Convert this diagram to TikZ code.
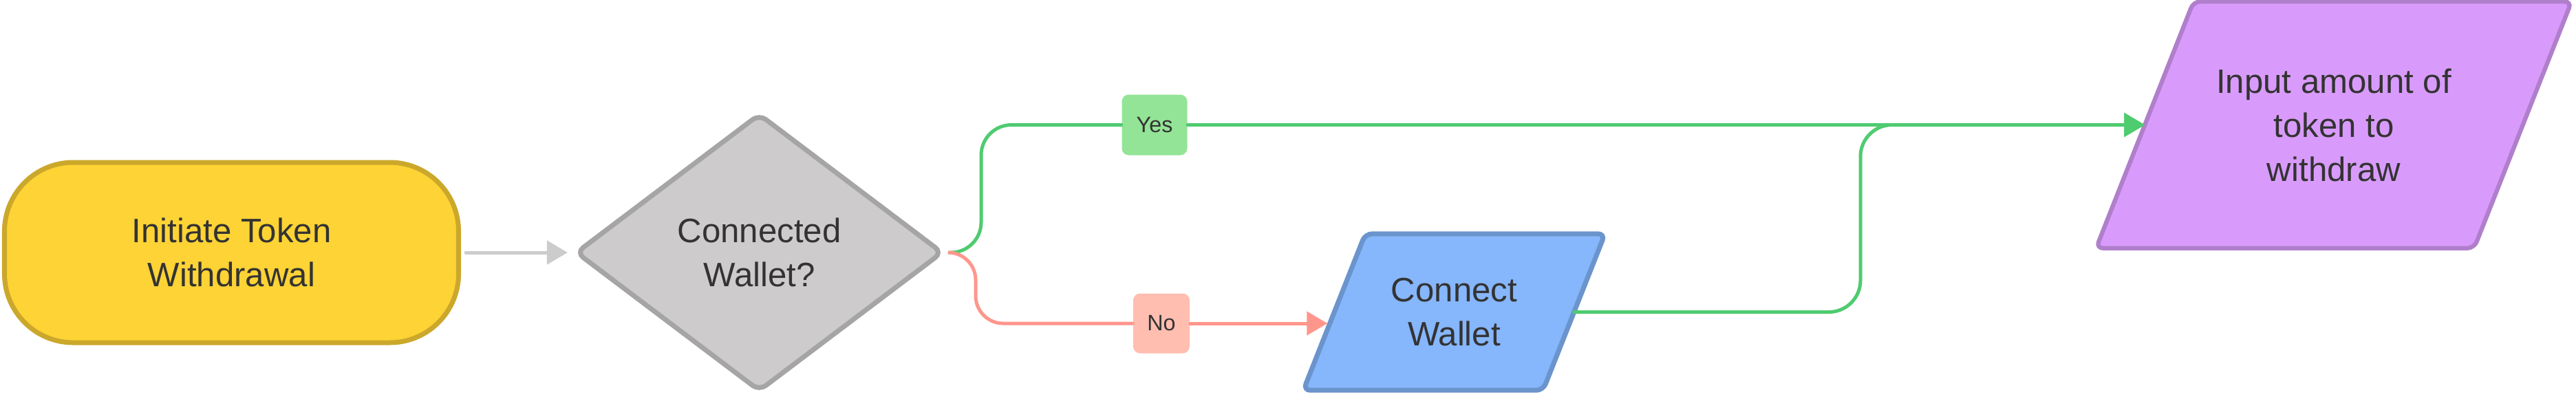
\documentclass[tikz,border=0pt]{standalone}
\usepackage{fontspec}
\setmainfont{Liberation Sans}
\usetikzlibrary{positioning}
\usetikzlibrary{arrows.meta}
\usetikzlibrary{shapes.geometric}
\pgfdeclarelayer{background}
\pgfsetlayers{background,main}
\definecolor{startFill}{HTML}{FDD335}
\definecolor{startLine}{HTML}{CBA82B}
\definecolor{decFill}{HTML}{CDCBCC}
\definecolor{decLine}{HTML}{A6A5A6}
\definecolor{connFill}{HTML}{86B6FB}
\definecolor{connLine}{HTML}{6B94CC}
\definecolor{inputFill}{HTML}{D99BFB}
\definecolor{inputLine}{HTML}{B07FCB}
\definecolor{yesLine}{HTML}{4FCB70}
\definecolor{yesFill}{HTML}{93E496}
\definecolor{noLine}{HTML}{FF968C}
\definecolor{noFill}{HTML}{FFBEB0}
\definecolor{flowText}{HTML}{333333}
\definecolor{grayLine}{HTML}{CCCCCC}
\tikzset{
  baseNode/.style={%
    draw, line width=2pt, text=flowText, align=center, inner sep=0pt,
    font=\fontsize{14}{18.2}\selectfont,
  },
  startNode/.style={%
    baseNode, rectangle, rounded corners=1cm, fill=startFill, draw=startLine,
    minimum width=6.6cm, minimum height=2.62cm,
  },
  decisionNode/.style={%
    baseNode, diamond, rounded corners=0.12cm, fill=decFill, draw=decLine,
    minimum width=5.34cm, minimum height=4.04cm,
  },
  ioNode/.style={%
    rectangle, text=flowText, align=center, inner sep=0pt,
    font=\fontsize{14}{18.2}\selectfont,
  },
  ioShape/.style={%
    line width=2pt, rounded corners=0.1cm,
  },
  labelNode/.style={%
    rectangle, rounded corners=0.1cm, text=flowText, inner sep=0pt,
    font=\fontsize{9.2}{11}\selectfont,
  },
  flowLine/.style={%
    line width=1.42pt, line cap=round,
    >={Triangle[length=0.3cm,width=0.34cm]},
  }
}
% slanted box behind a text node: node name, half slant, colours
\newcommand{\drawIoShape}[3]{%
  \begin{pgfonlayer}{background}
    \draw[ioShape, #3]
      ([xshift=-#2]#1.south west) -- ([xshift=#2]#1.north west)
      -- ([xshift=#2]#1.north east) -- ([xshift=-#2]#1.south east) -- cycle;
  \end{pgfonlayer}
}
\begin{document}
\begin{tikzpicture}
                \useasboundingbox (0,0) rectangle (37.44,-5.76);
                \node[startNode]
                  (start) at (3.365,-3.67) {Initiate Token\\Withdrawal};
                \node[decisionNode]
                  (decision) at (11.035,-3.67) {Connected\\Wallet?};
                \node[ioNode, minimum width=3.47cm, minimum height=2.26cm]
                  (connect) at (21.135,-4.535) {Connect\\Wallet};
                \drawIoShape{connect}{0.45cm}{fill=connFill, draw=connLine}
                \node[ioNode, minimum width=5.48cm, minimum height=3.57cm]
                  (input) at (33.92,-1.815) {Input amount of\\token to\\withdraw};
                \drawIoShape{input}{0.708cm}{fill=inputFill, draw=inputLine, line width=1.8pt}
                \node[labelNode, fill=yesFill, minimum width=0.95cm, minimum height=0.88cm]
                  (yes) at (16.78,-1.815) {Yes};
                \node[labelNode, fill=noFill, minimum width=0.82cm, minimum height=0.87cm]
                  (no) at (16.88,-4.70) {No};
                \coordinate (joint) at (27.04,-1.815);
                \draw[flowLine, ->, draw=grayLine, shorten <=0.07cm, shorten >=0.08cm]
                  (start) -- (decision)
                  ;
                \draw[flowLine, draw=yesLine, rounded corners=0.44cm]
                  ([xshift=0.06cm]decision.east) -- ++(0.46,0) |- (yes.west)
                  ;
                \draw[flowLine, ->, draw=yesLine]
                  (yes.east) -- (input.west)
                  ;
                \draw[flowLine, draw=noLine, rounded corners=0.4cm]
                  ([xshift=0.06cm]decision.east) -- ++(0.38,0) |- (no.west)
                  ;
                \draw[flowLine, ->, draw=noLine, shorten >=0.1cm]
                  (no.east) -- (no.east -| connect.west)
                  ;
                \draw[flowLine, ->, draw=yesLine, rounded corners=0.46cm]
                  (connect.east) -| (joint) -- (input.west)
                  ;
              \end{tikzpicture}
\end{document}
